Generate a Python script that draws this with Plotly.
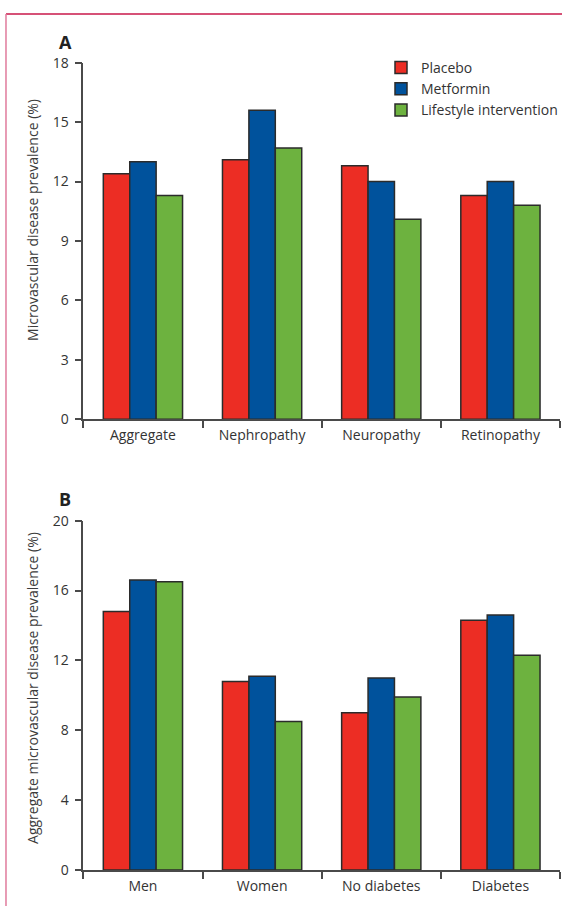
import plotly.graph_objects as go

# Panel A: prevalence by outcome
outcomes = ["Aggregate", "Nephropathy", "Neuropathy", "Retinopathy"]
placebo_a = [12.4, 13.1, 12.8, 11.3]
metformin_a = [13.0, 15.6, 12.0, 12.0]
lifestyle_a = [11.3, 13.7, 10.1, 10.8]

# Panel B: aggregate prevalence by subgroup
subgroups = ["Men", "Women", "No diabetes", "Diabetes"]
placebo_b = [14.8, 10.8, 9.0, 14.3]
metformin_b = [16.6, 11.1, 11.0, 14.6]
lifestyle_b = [16.5, 8.5, 9.9, 12.3]

ticks_a = [0, 3, 6, 9, 12, 15, 18]
ticks_b = [0, 4, 8, 12, 16, 20]

series = ["Placebo", "Metformin", "Lifestyle intervention"]
colors = ["#ec2d24", "#00529c", "#6db23f"]

W, H = 563, 906
FONT = "Open Sans"
AXIS_COLOR = "#4a4a4a"
TEXT_COLOR = "#333333"


def px_x(x):
    return x / W


def px_y(y):
    return 1 - y / H


fig = go.Figure()

for name, vals, col in zip(series, [placebo_a, metformin_a, lifestyle_a], colors):
    fig.add_trace(go.Bar(
        x=outcomes, y=vals, name=name, xaxis="x", yaxis="y",
        marker=dict(color=col, line=dict(color="#2b2b2b", width=1.5)),
    ))

for name, vals, col in zip(series, [placebo_b, metformin_b, lifestyle_b], colors):
    fig.add_trace(go.Bar(
        x=subgroups, y=vals, name=name, xaxis="x2", yaxis="y2", showlegend=False,
        marker=dict(color=col, line=dict(color="#2b2b2b", width=1.5)),
    ))

x_common = dict(
    type="category", showline=True, linecolor=AXIS_COLOR, linewidth=1.5,
    ticks="outside", tickson="boundaries", ticklen=7, tickwidth=1.5,
    tickcolor=AXIS_COLOR, showgrid=False, zeroline=False, automargin=False,
    ticklabelstandoff=2,
    tickfont=dict(family=FONT, size=14, color=TEXT_COLOR),
    domain=[px_x(83.5), px_x(561)],
)
y_common = dict(
    showline=True, linecolor=AXIS_COLOR, linewidth=1.5,
    ticks="outside", ticklen=7, tickwidth=1.5, tickcolor=AXIS_COLOR,
    showgrid=False, zeroline=False, automargin=False, ticklabelstandoff=3,
    tickfont=dict(family=FONT, size=14, color=TEXT_COLOR),
)


def label(text, x, y, size, angle=0, color=TEXT_COLOR):
    return dict(text=text, x=px_x(x), y=px_y(y), xref="paper", yref="paper",
                xanchor="center", yanchor="middle", textangle=angle,
                showarrow=False, font=dict(family=FONT, size=size, color=color))


fig.update_layout(
    width=W, height=H, template="none",
    margin=dict(l=0, r=0, t=0, b=0),
    paper_bgcolor="white", plot_bgcolor="white",
    barmode="group", bargap=0.335, bargroupgap=0,
    font=dict(family=FONT, color=TEXT_COLOR),
    xaxis=dict(**x_common, anchor="y"),
    yaxis=dict(**y_common, anchor="x", range=[0, 18], tickvals=ticks_a,
               domain=[px_y(419.3), px_y(62.7)]),
    xaxis2=dict(**x_common, anchor="y2"),
    yaxis2=dict(**y_common, anchor="x2", range=[0, 20], tickvals=ticks_b,
                domain=[px_y(870), px_y(520.7)]),
    legend=dict(
        x=px_x(382), y=px_y(52), xanchor="left", yanchor="top",
        font=dict(family=FONT, size=14, color=TEXT_COLOR),
        bgcolor="rgba(0,0,0,0)", tracegroupgap=0, itemwidth=30,
    ),
    shapes=[
        dict(type="line", xref="paper", yref="paper",
             x0=px_x(6), x1=1, y0=px_y(14), y1=px_y(14),
             line=dict(color="#c8174a", width=1.5)),
        dict(type="line", xref="paper", yref="paper",
             x0=px_x(6), x1=px_x(6), y0=px_y(14), y1=0,
             line=dict(color="#e07b9c", width=1.5)),
    ],
    annotations=[
        label("<b>A</b>", 66, 42, 18, color="#222222"),
        label("<b>B</b>", 65, 499, 18, color="#222222"),
        label("Microvascular disease prevalence (%)", 32, 220, 14, angle=-90,
              color="#3c3c3c"),
        label("Aggregate microvascular disease prevalence (%)", 32, 688, 14,
              angle=-90, color="#3c3c3c"),
    ],
)

fig.write_html("out.html")
